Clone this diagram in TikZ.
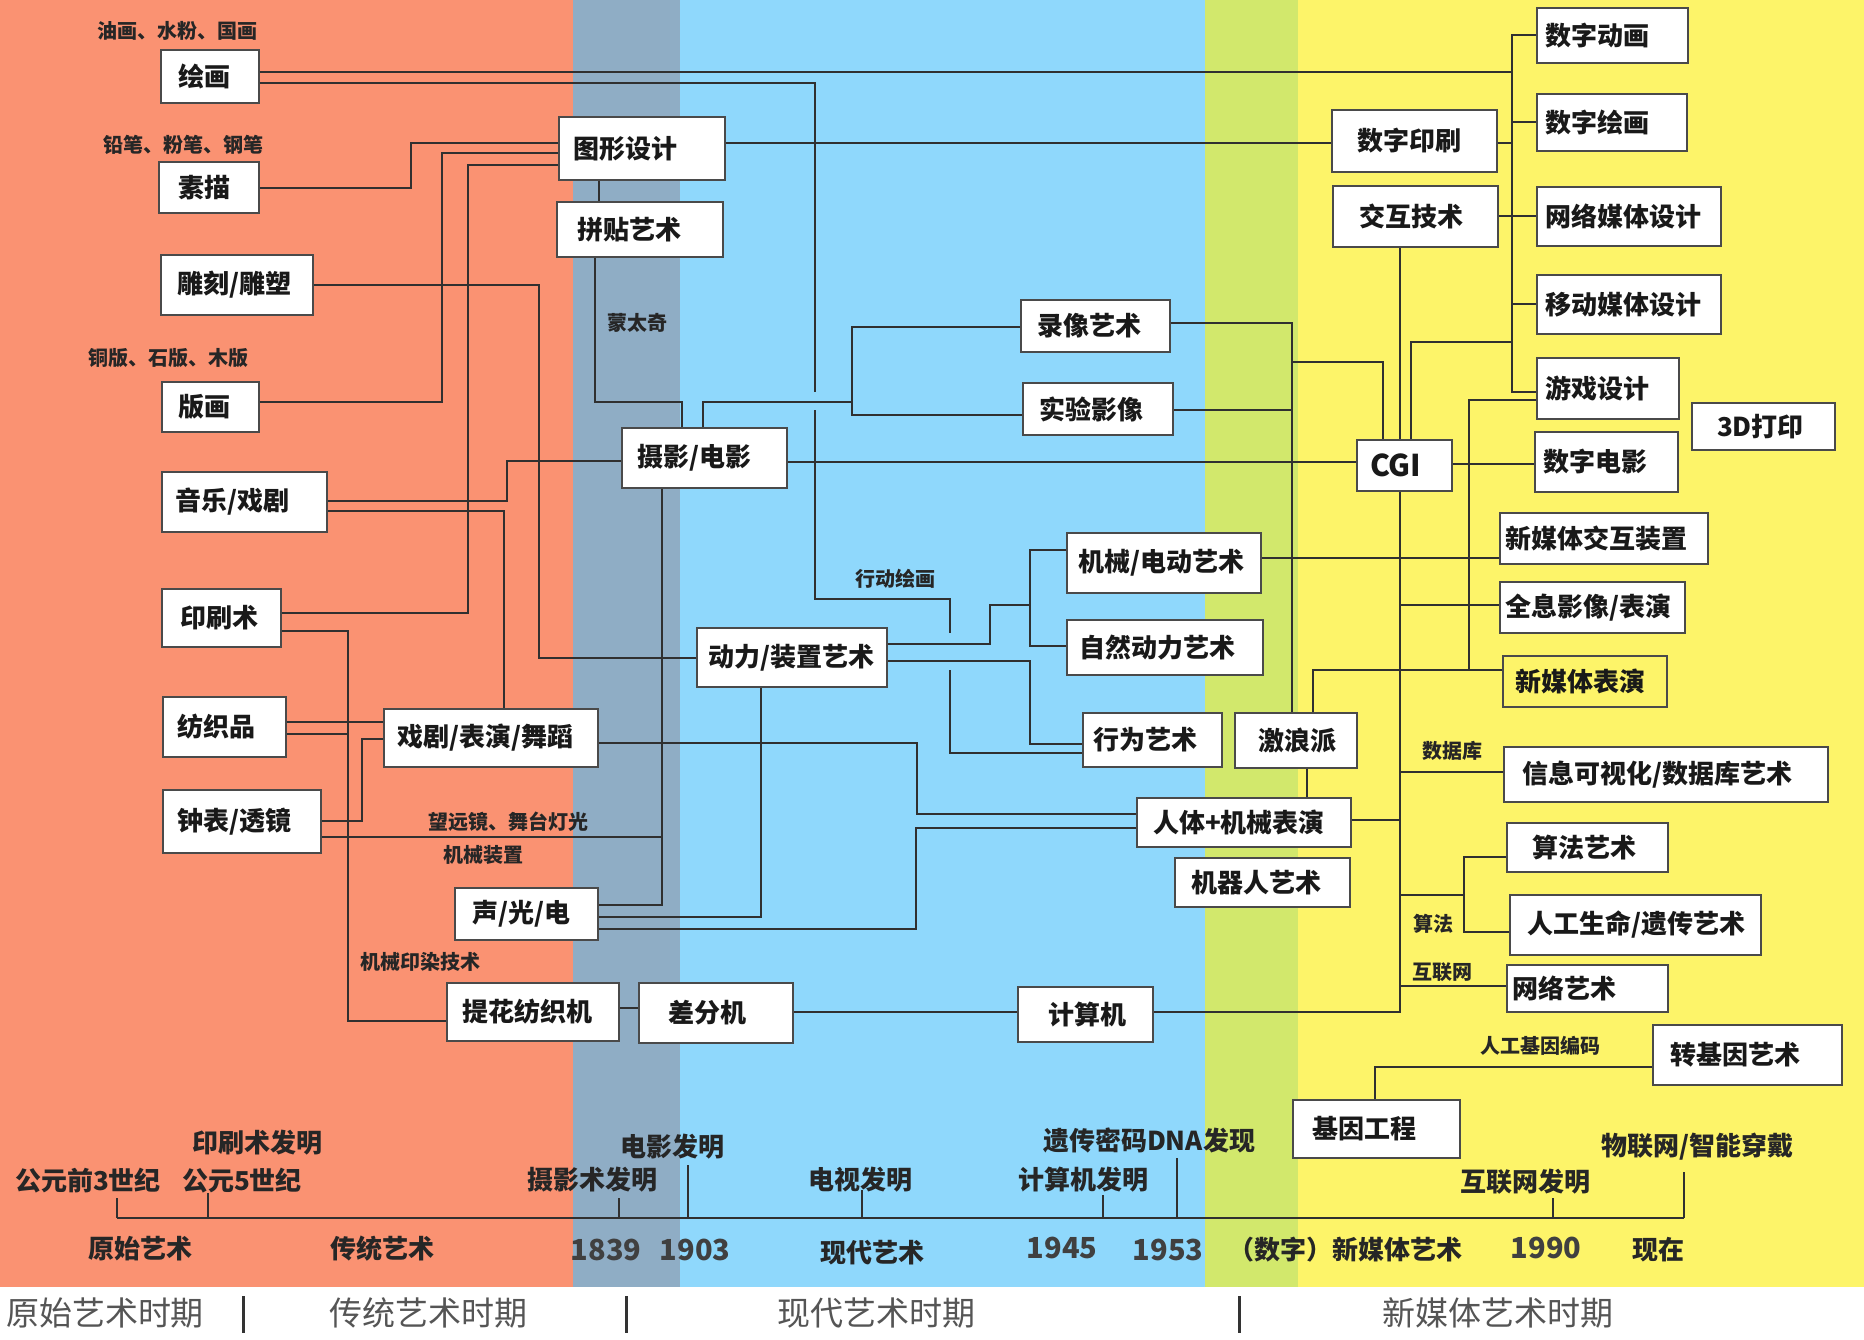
\documentclass[tikz,border=0pt]{standalone}
\usepackage{fontspec}
\setmainfont{Noto Sans CJK SC}
\definecolor{cOr}{HTML}{FA9272}
\definecolor{cGb}{HTML}{8FADC5}
\definecolor{cLb}{HTML}{8FD8FC}
\definecolor{cYg}{HTML}{D2E86C}
\definecolor{cYe}{HTML}{FDF469}
\definecolor{cLn}{HTML}{303030}
\definecolor{cBd}{HTML}{4A4A4A}
\definecolor{cPer}{HTML}{555555}
\newcommand\bx[8][]{%
  \pgfmathsetmacro\bxw{#5-#3}%
  \pgfmathsetmacro\bxh{#6-#4}%
  \pgfmathsetmacro\bxp{#7-#3}%
  \pgfmathsetmacro\bxt{#5-#3-2*(#7-#3)}%
  \node[box,#1,inner xsep=\bxp pt,minimum height=\bxh pt,minimum width=\bxw pt] (#2) at ({(#3+#5)/2},{(#4+#6)/2}) {\makebox[\bxt pt][l]{#8}};}
\tikzset{
  box/.style={draw=cBd,fill=white,line width=1.8pt,inner ysep=0pt,font=\fontsize{26}{30}\selectfont\bfseries,text=black!90},
  ln/.style={draw=cLn,line width=2.2pt},
  sm/.style={font=\fontsize{20}{24}\selectfont\bfseries,text=black!85,inner sep=0pt},
  tl/.style={font=\fontsize{26}{30}\selectfont\bfseries,text=black!85,inner sep=0pt},
  yr/.style={font=\fontsize{29}{32}\selectfont\bfseries,text=black!75,inner sep=0pt},
  per/.style={font=\fontsize{33}{36}\selectfont,text=cPer,inner sep=0pt},
  axis/.style={draw=cLn,line width=2pt}
}
\begin{document}
\begin{tikzpicture}[x=1pt,y=-1pt]
\useasboundingbox (0,0) rectangle (1864,1340);
% background bands
\fill[white] (0,0) rectangle (1864,1340);
\fill[cOr] (0,0) rectangle (573,1287);
\fill[cGb] (573,0) rectangle (680,1287);
\fill[cLb] (680,0) rectangle (1205,1287);
\fill[cYg] (1205,0) rectangle (1298,1287);
\fill[cYe] (1298,0) rectangle (1864,1287);

% junction coordinates
\coordinate (rb72) at (1512,72);
\coordinate (rb122) at (1512,122);
\coordinate (rb143) at (1512,143);
\coordinate (rb304) at (1512,304);
\coordinate (rb342) at (1512,342);
\coordinate (hopA1) at (815,392);
\coordinate (hopA2) at (815,410);
\coordinate (hopB1) at (950,633);
\coordinate (hopB2) at (950,670);
\coordinate (lb402) at (852,402);
\coordinate (vb410) at (1292,410);
\coordinate (vb362) at (1292,362);
\coordinate (gb670) at (1469,670);
\coordinate (cb605) at (1400,605);
\coordinate (cb772) at (1400,772);
\coordinate (cb820) at (1400,820);
\coordinate (cb895) at (1400,895);
\coordinate (cb986) at (1400,986);
\coordinate (ab895) at (1464,895);
\coordinate (kb605) at (1030,605);
\coordinate (zb837) at (662,837);
\coordinate (pb734) at (348,734);

% boxes
\bx{huihua}{161}{50}{259}{103}{178}{绘画}
\bx{sumiao}{159}{162}{259}{213}{178}{素描}
\bx{diaoke}{161}{255}{313}{315}{177}{雕刻/雕塑}
\bx{banhua}{162}{382}{259}{432}{178}{版画}
\bx{yinyue}{162}{472}{327}{532}{175}{音乐/戏剧}
\bx{yinshua}{162}{589}{281}{647}{180}{印刷术}
\bx{fangzhi}{163}{697}{286}{757}{177}{纺织品}
\bx{zhongbiao}{163}{790}{321}{853}{177}{钟表/透镜}
\bx{tuxing}{559}{117}{725}{180}{573}{图形设计}
\bx{pintie}{557}{202}{723}{257}{577}{拼贴艺术}
\bx{sheying}{622}{428}{787}{488}{637}{摄影/电影}
\bx{xiju}{384}{709}{598}{767}{397}{戏剧/表演/舞蹈}
\bx{sheng}{455}{888}{598}{940}{472}{声/光/电}
\bx{tihua}{447}{983}{619}{1041}{462}{提花纺织机}
\bx{chafen}{639}{983}{793}{1043}{668}{差分机}
\bx{dongli}{697}{628}{887}{687}{708}{动力/装置艺术}
\bx{luxiang}{1021}{300}{1170}{352}{1037}{录像艺术}
\bx{shiyan}{1023}{383}{1173}{435}{1039}{实验影像}
\bx{jixie}{1067}{533}{1261}{593}{1078}{机械/电动艺术}
\bx{ziran}{1067}{620}{1263}{675}{1079}{自然动力艺术}
\bx{xingwei}{1083}{713}{1222}{767}{1093}{行为艺术}
\bx{jilang}{1235}{713}{1357}{768}{1258}{激浪派}
\bx{renti}{1137}{798}{1351}{847}{1153}{人体+机械表演}
\bx{jiqiren}{1175}{858}{1350}{907}{1191}{机器人艺术}
\bx{jisuanji}{1018}{987}{1153}{1042}{1048}{计算机}
\bx{shuziyin}{1332}{110}{1497}{172}{1357}{数字印刷}
\bx{jiaohu}{1333}{186}{1498}{247}{1359}{交互技术}
\bx[font=\fontsize{30}{34}\selectfont\bfseries]{cgi}{1357}{440}{1452}{491}{1370}{CGI}
\bx{shuzidh}{1537}{8}{1688}{63}{1545}{数字动画}
\bx{shuzihh}{1537}{94}{1687}{151}{1545}{数字绘画}
\bx{wlmt}{1537}{187}{1721}{246}{1545}{网络媒体设计}
\bx{yidong}{1537}{275}{1721}{334}{1545}{移动媒体设计}
\bx{youxi}{1537}{358}{1679}{419}{1545}{游戏设计}
\bx{dayin}{1692}{403}{1835}{450}{1717}{3D打印}
\bx{shuzidy}{1535}{432}{1678}{492}{1543}{数字电影}
\bx{xmtjh}{1500}{513}{1708}{564}{1505}{新媒体交互装置}
\bx{quanxi}{1500}{582}{1685}{633}{1505}{全息影像/表演}
\bx[fill=cYe]{xmtby}{1503}{656}{1667}{707}{1515}{新媒体表演}
\bx{xinxi}{1504}{747}{1828}{802}{1522}{信息可视化/数据库艺术}
\bx{suanfa}{1507}{823}{1668}{872}{1532}{算法艺术}
\bx{rengong}{1510}{895}{1761}{955}{1527}{人工生命/遗传艺术}
\bx{wlys}{1507}{965}{1668}{1012}{1512}{网络艺术}
\bx{zhuan}{1653}{1025}{1842}{1085}{1670}{转基因艺术}
\bx{jiyin}{1293}{1100}{1460}{1158}{1312}{基因工程}

% connectors: right bus
\draw[ln] (shuzidh.west |- 0,35) -- (1512,35) -- (1512,392) -- (youxi.west |- 0,392);
\draw[ln] (huihua.east |- 0,72) -- (rb72);
\draw[ln] (rb122) -- (shuzihh.west |- 0,122);
\draw[ln] (shuziyin.east |- 0,143) -- (rb143);
\draw[ln] (rb304) -- (yidong.west |- 0,304);
\draw[ln] (jiaohu.east |- 0,216) -- (wlmt.west |- 0,216);
\draw[ln] (rb342) -- (1411,342) -- (cgi.north -| 1411,0);
\draw[ln] (jiaohu.south -| 1400,0) -- (cgi.north -| 1400,0);
\draw[ln] (tuxing.east |- 0,143) -- (shuziyin.west |- 0,143);
% left group
\draw[ln] (sumiao.east |- 0,188) -- (411,188) -- (411,143) -- (tuxing.west |- 0,143);
\draw[ln] (banhua.east |- 0,402) -- (442,402) -- (442,153) -- (tuxing.west |- 0,153);
\draw[ln] (yinshua.east |- 0,613) -- (468,613) -- (468,165) -- (tuxing.west |- 0,165);
\draw[ln] (diaoke.east |- 0,285) -- (539,285) -- (539,658) -- (dongli.west |- 0,658);
\draw[ln] (tuxing.south -| 599,0) -- (pintie.north -| 599,0);
\draw[ln] (pintie.south -| 595,0) -- (595,402) -- (682,402) -- (sheying.north -| 682,0);
\draw[ln] (sheying.north -| 703,0) -- (703,402) -- (lb402);
\draw[ln] (luxiang.west |- 0,327) -- (852,327) -- (852,415) -- (shiyan.west |- 0,415);
\draw[ln] (luxiang.east |- 0,323) -- (1292,323) -- (jilang.north -| 1292,0);
\draw[ln] (shiyan.east |- 0,410) -- (vb410);
\draw[ln] (vb362) -- (1383,362) -- (cgi.north -| 1383,0);
\draw[ln] (sheying.east |- 0,462) -- (cgi.west |- 0,462);
\draw[ln] (cgi.east |- 0,464) -- (shuzidy.west |- 0,464);
\draw[ln] (youxi.west |- 0,400) -- (1469,400) -- (gb670);
\draw[ln] (jilang.north -| 1313,0) -- (1313,670) -- (xmtby.west |- 0,670);
\draw[ln] (jixie.east |- 0,558) -- (xmtjh.west |- 0,558);
% CGI lower bus
\draw[ln] (cgi.south -| 1400,0) -- (1400,1012) -- (jisuanji.east |- 0,1012);
\draw[ln] (cb605) -- (quanxi.west |- 0,605);
\draw[ln] (cb772) -- (xinxi.west |- 0,772);
\draw[ln] (renti.east |- 0,820) -- (cb820);
\draw[ln] (cb895) -- (ab895);
\draw[ln] (suanfa.west |- 0,857) -- (1464,857) -- (1464,932) -- (rengong.west |- 0,932);
\draw[ln] (cb986) -- (wlys.west |- 0,986);
\draw[ln] (jilang.south -| 1307,0) -- (renti.north -| 1307,0);
% kinetic group
\draw[ln] (dongli.east |- 0,644) -- (990,644) -- (990,605) -- (kb605);
\draw[ln] (jixie.west |- 0,550) -- (1030,550) -- (1030,646) -- (ziran.west |- 0,646);
\draw[ln] (dongli.east |- 0,661) -- (1030,661) -- (1030,744) -- (xingwei.west |- 0,744);
\draw[ln] (dongli.south -| 761,0) -- (761,917) -- (sheng.east |- 0,917);
\draw[ln] (sheying.south -| 662,0) -- (662,905) -- (sheng.east |- 0,905);
\draw[ln] (zhongbiao.east |- 0,837) -- (zb837);
\draw[ln] (zhongbiao.east |- 0,821) -- (362,821) -- (362,739) -- (xiju.west |- 0,739);
\draw[ln] (fangzhi.east |- 0,722) -- (xiju.west |- 0,722);
\draw[ln] (fangzhi.east |- 0,734) -- (pb734);
\draw[ln] (yinshua.east |- 0,631) -- (348,631) -- (348,1021) -- (tihua.west |- 0,1021);
\draw[ln] (yinyue.east |- 0,501) -- (507,501) -- (507,461) -- (sheying.west |- 0,461);
\draw[ln] (yinyue.east |- 0,511) -- (504,511) -- (xiju.north -| 504,0);
\draw[ln] (xiju.east |- 0,743) -- (917,743) -- (917,814) -- (renti.west |- 0,814);
\draw[ln] (sheng.east |- 0,929) -- (916,929) -- (916,828) -- (renti.west |- 0,828);
\draw[ln] (tihua.east |- 0,1008) -- (chafen.west |- 0,1008);
\draw[ln] (chafen.east |- 0,1012) -- (jisuanji.west |- 0,1012);
\draw[ln] (jiyin.north -| 1375,0) -- (1375,1067) -- (zhuan.west |- 0,1067);
% action painting (with hops)
\draw[ln] (huihua.east |- 0,83) -- (815,83) -- (hopA1);
\draw[ln] (hopA2) -- (815,599) -- (950,599) -- (hopB1);
\draw[ln] (hopB2) -- (950,753) -- (xingwei.west |- 0,753);

% small labels
\node[sm] (l1) at (177,31) {油画、水粉、国画};
\node[sm] (l2) at (183,145) {铅笔、粉笔、钢笔};
\node[sm] (l3) at (168,358) {铜版、石版、木版};
\node[sm] (l4) at (637,323) {蒙太奇};
\node[sm] (l5) at (895,579) {行动绘画};
\node[sm] (l6) at (508,822) {望远镜、舞台灯光};
\node[sm] (l7) at (483,855) {机械装置};
\node[sm] (l8) at (420,962) {机械印染技术};
\node[sm] (l9) at (1452,751) {数据库};
\node[sm] (l10) at (1433,924) {算法};
\node[sm] (l11) at (1442,972) {互联网};
\node[sm] (l12) at (1540,1046) {人工基因编码};

% timeline
\draw[axis] (117,1218) -- (1684,1218);
\foreach \tx/\ty in {117/1198,208/1193,619/1198,688/1165,862/1190,1103/1195,1177/1158,1553/1198,1684/1172}
  \draw[axis] (\tx,\ty) -- (\tx,1218);
\node[tl] (t1) at (257,1143) {印刷术发明};
\node[tl] (t2) at (88,1181) {公元前3世纪};
\node[tl] (t3) at (242,1181) {公元5世纪};
\node[tl] (t4) at (672,1147) {电影发明};
\node[tl] (t5) at (592,1180) {摄影术发明};
\node[tl] (t6) at (860,1180) {电视发明};
\node[tl] (t7) at (1149,1140) {遗传密码DNA发现};
\node[tl] (t8) at (1083,1180) {计算机发明};
\node[tl] (t9) at (1525,1182) {互联网发明};
\node[tl] (t10) at (1697,1147) {物联网/智能穿戴};
\node[tl] (b1) at (140,1249) {原始艺术};
\node[tl] (b2) at (382,1249) {传统艺术};
\node[yr] (b3) at (606,1250) {1839};
\node[yr] (b4) at (695,1250) {1903};
\node[tl] (b5) at (872,1253) {现代艺术};
\node[yr] (b6) at (1062,1248) {1945};
\node[yr] (b7) at (1168,1250) {1953};
\node[tl] (b8) at (1345,1250) {（数字）新媒体艺术};
\node[yr] (b9) at (1546,1248) {1990};
\node[tl] (b10) at (1658,1250) {现在};

% period labels
\node[per] (p1) at (105,1313) {原始艺术时期};
\node[per] (p2) at (428,1313) {传统艺术时期};
\node[per] (p3) at (876,1313) {现代艺术时期};
\node[per] (p4) at (1498,1313) {新媒体艺术时期};
\foreach \sx in {243,626,1239}
  \draw[draw=black!80,line width=3pt] (\sx,1296) -- (\sx,1333);
\end{tikzpicture}
\end{document}
